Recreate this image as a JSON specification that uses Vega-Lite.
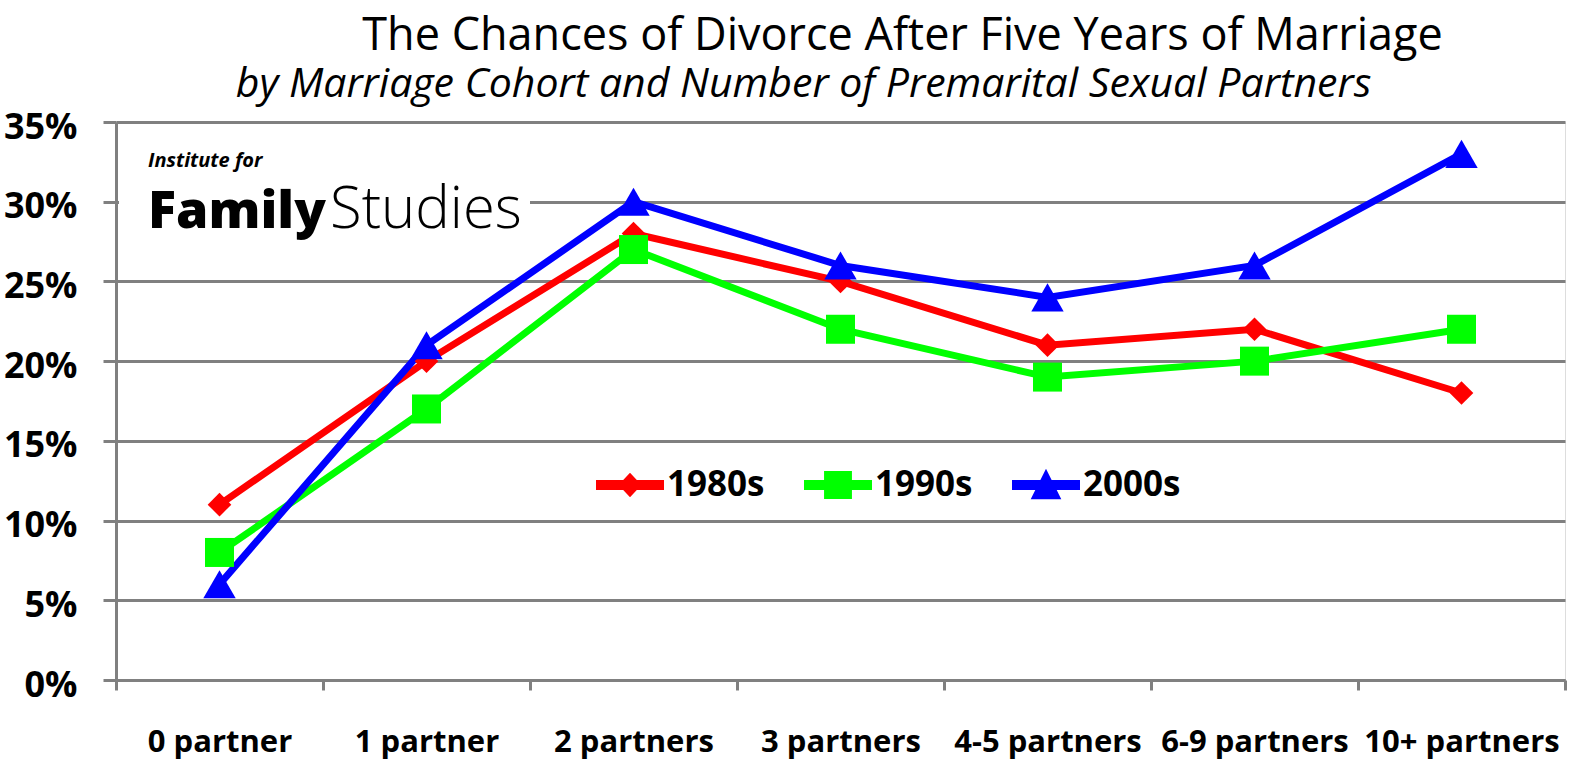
{
  "$schema": "https://vega.github.io/schema/vega-lite/v6.json",
  "autosize": "none",
  "width": 1449,
  "height": 558,
  "padding": {"left": 116, "top": 122, "right": 16, "bottom": 104},
  "background": "white",
  "title": {
    "text": "The Chances of Divorce After Five Years of Marriage",
    "anchor": "middle",
    "dx": 62,
    "font": "Open Sans",
    "fontSize": 45,
    "fontWeight": "normal",
    "color": "black",
    "offset": 5
  },
  "data": {
    "values": [
      {"cohort": "1980s", "partners": "0 partner", "rate": 0.11},
      {"cohort": "1980s", "partners": "1 partner", "rate": 0.20},
      {"cohort": "1980s", "partners": "2 partners", "rate": 0.28},
      {"cohort": "1980s", "partners": "3 partners", "rate": 0.25},
      {"cohort": "1980s", "partners": "4-5 partners", "rate": 0.21},
      {"cohort": "1980s", "partners": "6-9 partners", "rate": 0.22},
      {"cohort": "1980s", "partners": "10+ partners", "rate": 0.18},
      {"cohort": "1990s", "partners": "0 partner", "rate": 0.08},
      {"cohort": "1990s", "partners": "1 partner", "rate": 0.17},
      {"cohort": "1990s", "partners": "2 partners", "rate": 0.27},
      {"cohort": "1990s", "partners": "3 partners", "rate": 0.22},
      {"cohort": "1990s", "partners": "4-5 partners", "rate": 0.19},
      {"cohort": "1990s", "partners": "6-9 partners", "rate": 0.20},
      {"cohort": "1990s", "partners": "10+ partners", "rate": 0.22},
      {"cohort": "2000s", "partners": "0 partner", "rate": 0.06},
      {"cohort": "2000s", "partners": "1 partner", "rate": 0.21},
      {"cohort": "2000s", "partners": "2 partners", "rate": 0.30},
      {"cohort": "2000s", "partners": "3 partners", "rate": 0.26},
      {"cohort": "2000s", "partners": "4-5 partners", "rate": 0.24},
      {"cohort": "2000s", "partners": "6-9 partners", "rate": 0.26},
      {"cohort": "2000s", "partners": "10+ partners", "rate": 0.33}
    ]
  },
  "encoding": {
    "x": {
      "field": "partners",
      "type": "nominal",
      "sort": ["0 partner", "1 partner", "2 partners", "3 partners", "4-5 partners", "6-9 partners", "10+ partners"],
      "scale": {"type": "band", "paddingInner": 0, "paddingOuter": 0},
      "axis": {
        "title": null,
        "labelAngle": 0,
        "labelFont": "Open Sans",
        "labelFontSize": 31,
        "labelFontWeight": "bold",
        "labelColor": "black",
        "labelPadding": 37,
        "labelOverlap": false,
        "labelBound": false,
        "labelLimit": 0,
        "tickBand": "extent",
        "tickSize": 10,
        "tickWidth": 3,
        "tickColor": "#808080",
        "domainColor": "#808080",
        "domainWidth": 3,
        "grid": false
      }
    },
    "y": {
      "field": "rate",
      "type": "quantitative",
      "scale": {"domain": [0, 0.35], "nice": false},
      "axis": {
        "title": null,
        "values": [0, 0.05, 0.1, 0.15, 0.2, 0.25, 0.3, 0.35],
        "format": ".0%",
        "labelFont": "Open Sans",
        "labelFontSize": 36,
        "labelFontWeight": "bold",
        "labelColor": "black",
        "labelPadding": 26,
        "labelOffset": 5,
        "tickSize": 13,
        "tickWidth": 3,
        "tickColor": "#808080",
        "domainColor": "#808080",
        "domainWidth": 3,
        "grid": true,
        "gridColor": "#808080",
        "gridWidth": 3
      }
    }
  },
  "layer": [
    {
      "transform": [{"filter": "datum.rate < 0"}],
      "mark": {"type": "point", "filled": true, "opacity": 1, "strokeWidth": 0},
      "encoding": {
        "color": {
          "field": "cohort",
          "type": "nominal",
          "scale": {"domain": ["1980s", "1990s", "2000s"], "range": ["#ff0000", "#00ff00", "#0000ff"]},
          "legend": {
            "title": null,
            "orient": "none",
            "direction": "horizontal",
            "legendX": 480,
            "legendY": 329,
            "padding": 0,
            "symbolSize": 4624,
            "symbolStrokeWidth": 0,
            "labelFont": "Open Sans",
            "labelFontSize": 35,
            "labelFontWeight": "bold",
            "labelColor": "black",
            "labelOffset": 3,
            "columnPadding": 39
          }
        },
        "shape": {
          "field": "cohort",
          "type": "nominal",
          "scale": {
            "domain": ["1980s", "1990s", "2000s"],
            "range": [
              "M-1,-0.15H-0.2L0,-0.36L0.2,-0.15H1V0.15H0.2L0,0.36L-0.2,0.15H-1Z",
              "M-1,-0.15H-0.41V-0.41H0.41V-0.15H1V0.15H0.41V0.41H-0.41V0.15H-1Z",
              "M-1,-0.15H-0.165L0,-0.48L0.165,-0.15H1V0.15H0.315L0.45,0.42H-0.45L-0.315,0.15H-1Z"
            ]
          },
          "legend": {
            "title": null,
            "orient": "none",
            "direction": "horizontal",
            "legendX": 480,
            "legendY": 329,
            "padding": 0,
            "symbolSize": 4624,
            "symbolStrokeWidth": 0,
            "labelFont": "Open Sans",
            "labelFontSize": 35,
            "labelFontWeight": "bold",
            "labelColor": "black",
            "labelOffset": 3,
            "columnPadding": 39
          }
        }
      }
    },
    {
      "transform": [{"filter": "datum.cohort === '1980s' && datum.partners === '0 partner'"}],
      "mark": {"type": "text", "font": "Open Sans", "fontSize": 41, "fontStyle": "italic", "align": "center", "baseline": "alphabetic", "dx": -37, "color": "black"},
      "encoding": {
        "x": {"datum": "3 partners"},
        "y": {"datum": 0.3655},
        "text": {"value": "by Marriage Cohort and Number of Premarital Sexual Partners"}
      }
    },
    {
      "transform": [{"filter": "datum.cohort === '1980s' && datum.partners === '0 partner'"}],
      "mark": {"type": "rect", "color": "white"},
      "encoding": {
        "x": {"datum": "0 partner", "bandPosition": 0},
        "x2": {"datum": "1 partner", "bandPosition": 1},
        "xOffset": {"value": 3},
        "y": {"datum": 0.29},
        "y2": {"datum": 0.31}
      }
    },
    {
      "transform": [{"filter": "datum.cohort === '1980s' && datum.partners === '0 partner'"}],
      "mark": {"type": "text", "font": "Open Sans", "fontSize": 20, "fontStyle": "italic", "fontWeight": "bold", "align": "left", "baseline": "alphabetic", "dx": 32, "color": "black"},
      "encoding": {
        "x": {"datum": "0 partner", "bandPosition": 0},
        "y": {"datum": 0.3218},
        "text": {"value": "Institute for"}
      }
    },
    {
      "transform": [{"filter": "datum.cohort === '1980s' && datum.partners === '0 partner'"}],
      "mark": {"type": "text", "font": "Open Sans", "fontSize": 52, "fontWeight": 800, "align": "left", "baseline": "alphabetic", "dx": 32, "color": "black"},
      "encoding": {
        "x": {"datum": "0 partner", "bandPosition": 0},
        "y": {"datum": 0.2835},
        "text": {"value": "Family"}
      }
    },
    {
      "transform": [{"filter": "datum.cohort === '1980s' && datum.partners === '0 partner'"}],
      "mark": {"type": "text", "font": "Open Sans", "fontSize": 58, "fontWeight": 300, "align": "left", "baseline": "alphabetic", "dx": 214, "color": "black"},
      "encoding": {
        "x": {"datum": "0 partner", "bandPosition": 0},
        "y": {"datum": 0.2835},
        "text": {"value": "Studies"}
      }
    },
    {
      "mark": {"type": "line", "strokeWidth": 7},
      "encoding": {
        "color": {"field": "cohort", "type": "nominal"}
      }
    },
    {
      "transform": [{"filter": "datum.cohort === '1980s'"}],
      "mark": {"type": "point", "shape": "diamond", "filled": true, "size": 560, "opacity": 1, "strokeWidth": 0},
      "encoding": {"color": {"field": "cohort", "type": "nominal"}}
    },
    {
      "transform": [{"filter": "datum.cohort === '1990s'"}],
      "mark": {"type": "point", "shape": "square", "filled": true, "size": 841, "opacity": 1, "strokeWidth": 0},
      "encoding": {"color": {"field": "cohort", "type": "nominal"}}
    },
    {
      "transform": [{"filter": "datum.cohort === '2000s'"}],
      "mark": {"type": "point", "shape": "triangle-up", "filled": true, "size": 1050, "opacity": 1, "strokeWidth": 0},
      "encoding": {"color": {"field": "cohort", "type": "nominal"}}
    }
  ]
}
